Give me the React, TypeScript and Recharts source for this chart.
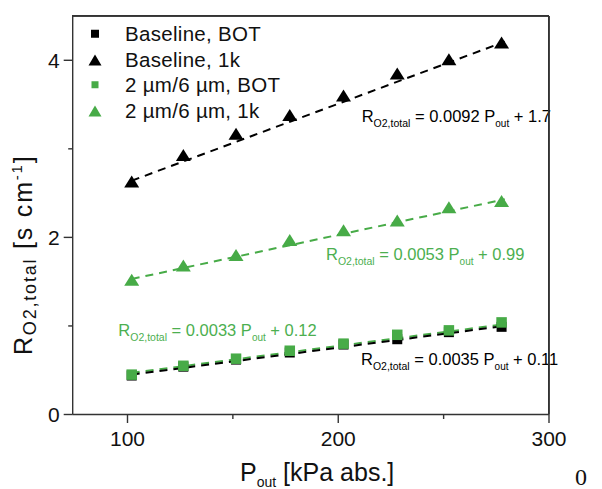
import React from 'react';
import { ScatterChart, Scatter, XAxis, YAxis, ReferenceLine, Legend, CartesianGrid } from 'recharts';

// ---------- data ----------
const pressures = [102, 126.5, 151.5, 177, 202.5, 228, 252.5, 277.5];
const baselineBOT = [0.44, 0.54, 0.62, 0.7, 0.79, 0.85, 0.93, 0.99];
const baseline1k = [2.62, 2.92, 3.16, 3.37, 3.59, 3.84, 4.0, 4.19];
const thinBOT = [0.45, 0.55, 0.63, 0.72, 0.8, 0.9, 0.95, 1.04];
const thin1k = [1.51, 1.67, 1.79, 1.96, 2.07, 2.18, 2.33, 2.4];

const seriesNames = ['Baseline, BOT', 'Baseline, 1k', '2 µm/6 µm, BOT', '2 µm/6 µm, 1k'];

// fitted lines (endpoints)
const fitRange = [102, 279];
const fitBaselineBOT = [0.45, 1.0];
const fitBaseline1k = [2.64, 4.21];
const fitThinBOT = [0.47, 1.02];
const fitThin1k = [1.53, 2.43];

// equation labels
const eqSlopes = ['0.0092', '0.0053', '0.0033', '0.0035'];
const eqIntercepts = ['1.7', '0.99', '0.12', '0.11'];

const xDomain = [74, 300];
const yDomain = [0, 4.5];
const xTicks = [100, 150, 200, 250, 300];
const xTickLabels = ['100', '', '200', '', '300'];
const yTicks = [0, 1, 2, 3, 4, 4.5];
const yTickLabels = ['0', '', '2', '', '4', ''];

// ---------- layout ----------
const W = 602;
const H = 489;
const MARGIN = { top: 16, right: 53, bottom: 24.5, left: 12.7 };
const Y_AXIS_W = 60;
const X_AXIS_H = 50;
const plotLeft = MARGIN.left + Y_AXIS_W;
const plotTop = MARGIN.top;
const plotW = W - MARGIN.left - MARGIN.right - Y_AXIS_W;
const plotH = H - MARGIN.top - MARGIN.bottom - X_AXIS_H;

// ---------- styles ----------
const BLACK = '#000000';
const GREEN = '#47ab47';
const GREEN_TEXT = '#4caf50';
const AXIS = '#333333';
const BW = 1.4;
const FONT = '"Liberation Sans", Arial, sans-serif';

const toPoints = (ys: number[]) => pressures.map((p, i) => ({ x: p, y: ys[i] }));

const squareShape = (color: string, size: number) => (props: any) => {
  const { cx, cy } = props;
  if (cx == null || cy == null) return <g />;
  return <rect x={cx - size / 2} y={cy - size / 2} width={size} height={size} fill={color} />;
};

const triangleShape = (color: string) => (props: any) => {
  const { cx, cy } = props;
  if (cx == null || cy == null) return <g />;
  return (
    <polygon
      points={`${cx},${cy - 7} ${cx + 7.5},${cy + 5} ${cx - 7.5},${cy + 5}`}
      fill={color}
    />
  );
};

const XTick = (props: any) => {
  const { x, y, payload } = props;
  const idx = xTicks.indexOf(payload.value);
  const label = idx >= 0 ? xTickLabels[idx] : '';
  const major = label !== '';
  const isEnd = payload.value === xDomain[1];
  return (
    <g>
      <line x1={x} x2={x} y1={y} y2={y + (major ? 8.5 : 4.5)} stroke={AXIS} strokeWidth={BW} />
      {isEnd && <line x1={x} x2={x} y1={y} y2={y - plotH} stroke={AXIS} strokeWidth={BW} />}
      {major && (
        <text x={x} y={y + 31.5} textAnchor="middle" fontSize={21} fontFamily={FONT} fill="#111">
          {label}
        </text>
      )}
    </g>
  );
};

const YTick = (props: any) => {
  const { x, y, payload } = props;
  const idx = yTicks.indexOf(payload.value);
  const label = idx >= 0 ? yTickLabels[idx] : '';
  const major = label !== '';
  const isEnd = payload.value === yDomain[1];
  if (isEnd) {
    return <line x1={x} x2={x + plotW} y1={y} y2={y} stroke={AXIS} strokeWidth={BW} />;
  }
  return (
    <g>
      <line x1={x} x2={x - (major ? 9 : 4.5)} y1={y} y2={y} stroke={AXIS} strokeWidth={BW} />
      {major && (
        <text x={x - 13} y={y + 7.5} textAnchor="end" fontSize={21} fontFamily={FONT} fill="#111">
          {label}
        </text>
      )}
    </g>
  );
};

const renderLegend = (props: any) => {
  const payload = (props.payload || [])
    .filter((e: any) => seriesNames.includes(e.value))
    .sort((a: any, b: any) => seriesNames.indexOf(a.value) - seriesNames.indexOf(b.value));
  return (
    <div style={{ fontFamily: FONT, fontSize: 20.5, letterSpacing: 0.3, color: '#111' }}>
      {payload.map((entry: any, i: number) => {
        const isTri = entry.type === 'triangle';
        const isGreen = entry.color === GREEN;
        return (
          <div key={i} style={{ display: 'flex', alignItems: 'center', height: 25.5, lineHeight: '25.5px' }}>
            <svg width={22} height={25.5} style={{ display: 'block' }}>
              {isTri ? (
                <polygon points="11,7.5 17.5,18.5 4.5,18.5" fill={entry.color} />
              ) : (
                <rect
                  x={11 - (isGreen ? 3.5 : 4)}
                  y={12.75 - (isGreen ? 3.5 : 4)}
                  width={isGreen ? 7 : 8}
                  height={isGreen ? 7 : 8}
                  fill={entry.color}
                />
              )}
            </svg>
            <span style={{ marginLeft: 19, whiteSpace: 'nowrap' }}>{entry.value}</span>
          </div>
        );
      })}
    </div>
  );
};

const Equation = ({ x, y, color, idx }: { x: number; y: number; color: string; idx: number }) => (
  <text x={x} y={y} fontFamily={FONT} fill={color} fontSize={16.5}>
    R
    <tspan fontSize={10.5} dy={5}>O2,total</tspan>
    <tspan fontSize={16.5} dy={-5}>{` = ${eqSlopes[idx]} P`}</tspan>
    <tspan fontSize={10} dy={5}>out</tspan>
    <tspan fontSize={16.5} dy={-5}>{` + ${eqIntercepts[idx]}`}</tspan>
  </text>
);

const dash = { strokeWidth: 2, strokeDasharray: '8 6' };

export default function App() {
  return (
    <div style={{ position: 'absolute', left: 0, top: 0, width: W, height: H, background: '#fff' }}>
      <ScatterChart width={W} height={H} margin={MARGIN}>
        <CartesianGrid
          horizontalValues={[yDomain[1]]}
          verticalValues={[xDomain[1]]}
          stroke={AXIS}
          strokeWidth={BW}
          strokeDasharray=""
        />
        <XAxis
          type="number"
          dataKey="x"
          domain={xDomain}
          ticks={xTicks}
          allowDataOverflow
          height={X_AXIS_H}
          tickSize={0}
          tickMargin={0}
          tick={<XTick />}
          axisLine={{ stroke: AXIS, strokeWidth: BW }}
          tickLine={false}
          interval={0}
        />
        <YAxis
          type="number"
          dataKey="y"
          domain={yDomain}
          ticks={yTicks}
          allowDataOverflow
          width={Y_AXIS_W}
          tickSize={0}
          tickMargin={0}
          tick={<YTick />}
          axisLine={{ stroke: AXIS, strokeWidth: BW }}
          tickLine={false}
          interval={0}
        />
        <Legend
          layout="vertical"
          align="center"
          verticalAlign="middle"
          wrapperStyle={{ left: 84, top: 21, width: 260, height: 102 }}
          content={renderLegend}
        />
        <Scatter
          name={seriesNames[0]}
          data={toPoints(baselineBOT)}
          fill={BLACK}
          legendType="square"
          shape={squareShape(BLACK, 10)}
          isAnimationActive={false}
        />
        <Scatter
          name={seriesNames[1]}
          data={toPoints(baseline1k)}
          fill={BLACK}
          legendType="triangle"
          shape={triangleShape(BLACK)}
          isAnimationActive={false}
        />
        <Scatter
          name={seriesNames[2]}
          data={toPoints(thinBOT)}
          fill={GREEN}
          legendType="square"
          shape={squareShape(GREEN, 10.5)}
          isAnimationActive={false}
        />
        <Scatter
          name={seriesNames[3]}
          data={toPoints(thin1k)}
          fill={GREEN}
          legendType="triangle"
          shape={triangleShape(GREEN)}
          isAnimationActive={false}
        />
        <ReferenceLine
          segment={[{ x: fitRange[0], y: fitThinBOT[0] }, { x: fitRange[1], y: fitThinBOT[1] }]}
          stroke={GREEN}
          {...dash}
          ifOverflow="visible"
        />
        <ReferenceLine
          segment={[{ x: fitRange[0], y: fitBaselineBOT[0] }, { x: fitRange[1], y: fitBaselineBOT[1] }]}
          stroke={BLACK}
          {...dash}
          ifOverflow="visible"
        />
        <ReferenceLine
          segment={[{ x: fitRange[0], y: fitBaseline1k[0] }, { x: fitRange[1], y: fitBaseline1k[1] }]}
          stroke={BLACK}
          {...dash}
          ifOverflow="visible"
        />
        <ReferenceLine
          segment={[{ x: fitRange[0], y: fitThin1k[0] }, { x: fitRange[1], y: fitThin1k[1] }]}
          stroke={GREEN}
          {...dash}
          ifOverflow="visible"
        />

        <Equation x={361.7} y={121.7} color={BLACK} idx={0} />
        <Equation x={326} y={260.3} color={GREEN_TEXT} idx={1} />
        <Equation x={118.3} y={335.7} color={GREEN_TEXT} idx={2} />
        <Equation x={361} y={365} color={BLACK} idx={3} />

        {/* x-axis title */}
        <text x={240} y={481} fontFamily={FONT} fontSize={25} fill="#111">
          P
          <tspan fontSize={14} dy={5.5}>out</tspan>
          <tspan fontSize={25} dy={-5.5}> [kPa abs.]</tspan>
        </text>

        {/* y-axis title */}
        <text
          transform="rotate(-90)"
          x={-355}
          y={31.7}
          fontFamily={FONT}
          fontSize={25}
          fill="#111"
          letterSpacing={1.8}
        >
          R
          <tspan fontSize={18} dy={4}>O2,total</tspan>
          <tspan fontSize={25} dy={-4}> [s cm</tspan>
          <tspan fontSize={15} dy={-10}>-1</tspan>
          <tspan fontSize={25} dy={10}>]</tspan>
        </text>

        <text x={575} y={485} fontFamily='"Liberation Serif", "Times New Roman", serif' fontSize={24} fill="#111">
          0
        </text>
      </ScatterChart>
      {/* plot frame overlay: top and right edges */}
      <div
        style={{
          position: 'absolute',
          left: plotLeft - BW / 2,
          top: plotTop - BW / 2,
          width: plotW,
          height: plotH,
          borderTop: `${BW}px solid ${AXIS}`,
          borderRight: `${BW}px solid ${AXIS}`,
          pointerEvents: 'none',
          boxSizing: 'content-box',
        }}
      />
    </div>
  );
}
